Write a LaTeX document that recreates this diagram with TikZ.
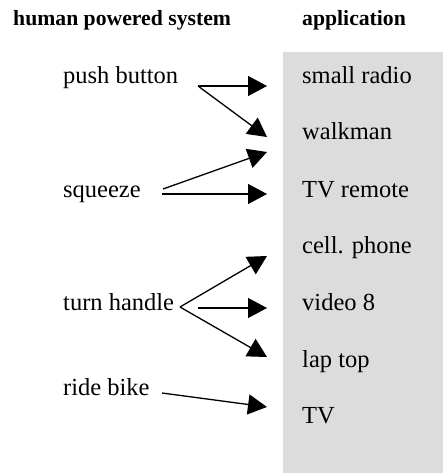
\documentclass[tikz,border=0pt]{standalone}
\usepackage{fontspec}
\setmainfont{Liberation Serif}
\usetikzlibrary{arrows.meta}
\definecolor{panel}{RGB}{220,220,220}
\begin{document}
\begin{tikzpicture}[x=1pt,y=-1pt,
  head/.style={font=\fontsize{21.7}{26}\selectfont\bfseries,anchor=base west,inner sep=0pt},
  item/.style={font=\fontsize{24.5}{29}\selectfont,anchor=base west,inner sep=0pt},
  link/.style={line width=1.3pt,-{Triangle[length=19pt,width=20pt]}}]
\useasboundingbox (0,0) rectangle (443,473);
\fill[panel] (283,52) rectangle (443,473);
\node[head] (h1) at (13,26) {human powered system};
\node[head] (h2) at (302,26) {application};
% sources
\node[item] (pb) at (63,84) {push button};
\node[item] (sq) at (63,197) {squeeze};
\node[item] (th) at (63,310) {turn handle};
\node[item] (rb) at (63,395) {ride bike};
% applications
\node[item] (a1) at (302,84) {small radio};
\node[item] (a2) at (302,140) {walkman};
\node[item] (a3) at (302,197) {TV remote};
\node[item] (a4) at (302,253) {cell. phone};
\node[item] (a5) at (302,310) {video 8};
\node[item] (a6) at (302,367) {lap top};
\node[item] (a7) at (302,423) {TV};
% connector ends
\coordinate (pbs) at (198,86);
\coordinate (sqs1) at (163,189);
\coordinate (sqs2) at (162,194);
\coordinate (thA) at (180,307);
\coordinate (thM) at (198,308);
\coordinate (rbs) at (162,393);
\coordinate (t1) at (267,86);
\coordinate (t2) at (267,137);
\coordinate (t2b) at (267,152);
\coordinate (t3) at (267,194);
\coordinate (t4) at (267,256);
\coordinate (t5) at (267,308);
\coordinate (t6) at (267,357);
\coordinate (t7) at (267,407);
\draw[link] (pbs) -- (t1);
\draw[link] (pbs) -- (t2);
\draw[link] (sqs1) -- (t2b);
\draw[link] (sqs2) -- (t3);
\draw[link] (thA) -- (t4);
\draw[link] (thM) -- (t5);
\draw[link] (thA) -- (t6);
\draw[link] (rbs) -- (t7);
\end{tikzpicture}
\end{document}
